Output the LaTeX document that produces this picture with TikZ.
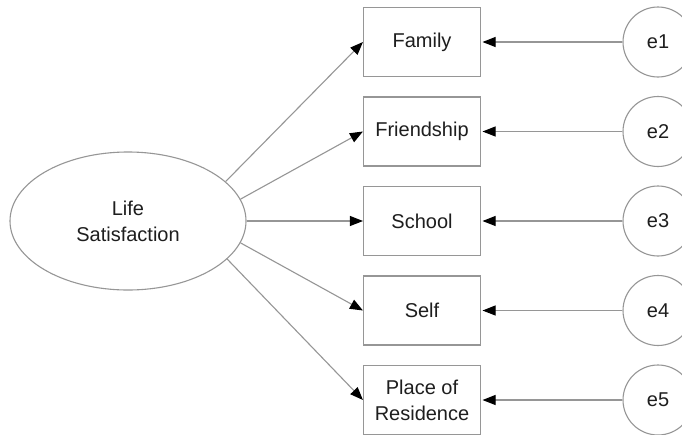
\documentclass[tikz,border=0pt]{standalone}
\usepackage{fontspec}
\setmainfont{Liberation Sans}
\usetikzlibrary{shapes.geometric,arrows.meta}
\definecolor{lineg}{RGB}{150,150,150}
\definecolor{txt}{RGB}{30,30,30}
\tikzset{
  lbl/.style={font=\fontsize{20}{26}\selectfont, text=txt, align=center},
  latent/.style={ellipse, draw=lineg, line width=1.1pt, minimum width=236pt, minimum height=138pt, inner sep=0pt, lbl},
  obs/.style={rectangle, draw=lineg, line width=1.1pt, minimum width=117pt, minimum height=69pt, inner sep=0pt, lbl},
  err/.style={circle, draw=lineg, line width=1.1pt, minimum size=70pt, inner sep=0pt, lbl},
  path/.style={draw=lineg, line width=1.1pt, -{Triangle[length=13pt,width=10pt,fill=black,color=black]}},
}
\begin{document}
\begin{tikzpicture}[x=1pt,y=-1pt]
\useasboundingbox[fill=white] (0,0) rectangle (682,434);
\node[latent] (ls) at (128,221) {Life\\Satisfaction};
\node[obs] (fam) at (422,42) {Family};
\node[obs] (fri) at (422,131.5) {Friendship};
\node[obs] (sch) at (422,221) {School};
\node[obs] (self) at (422,310.5) {Self};
\node[obs] (pla) at (422,400) {Place of\\Residence};
\node[err] (e1) at (658,42) {e1};
\node[err] (e2) at (658,131.5) {e2};
\node[err] (e3) at (658,221) {e3};
\node[err] (e4) at (658,310.5) {e4};
\node[err] (e5) at (658,400) {e5};
\draw[path] (ls.22) -- (fam.west);
\draw[path] (ls.11.5) -- (fri.west);
\draw[path] (ls.0) -- (sch.west);
\draw[path] (ls.-11.5) -- (self.west);
\draw[path] (ls.-21) -- (pla.west);
\draw[path, shorten >=1.5pt] (e1.west) -- (fam.east);
\draw[path, shorten >=1.5pt] (e2.west) -- (fri.east);
\draw[path, shorten >=1.5pt] (e3.west) -- (sch.east);
\draw[path, shorten >=1.5pt] (e4.west) -- (self.east);
\draw[path, shorten >=1.5pt] (e5.west) -- (pla.east);
\end{tikzpicture}
\end{document}
